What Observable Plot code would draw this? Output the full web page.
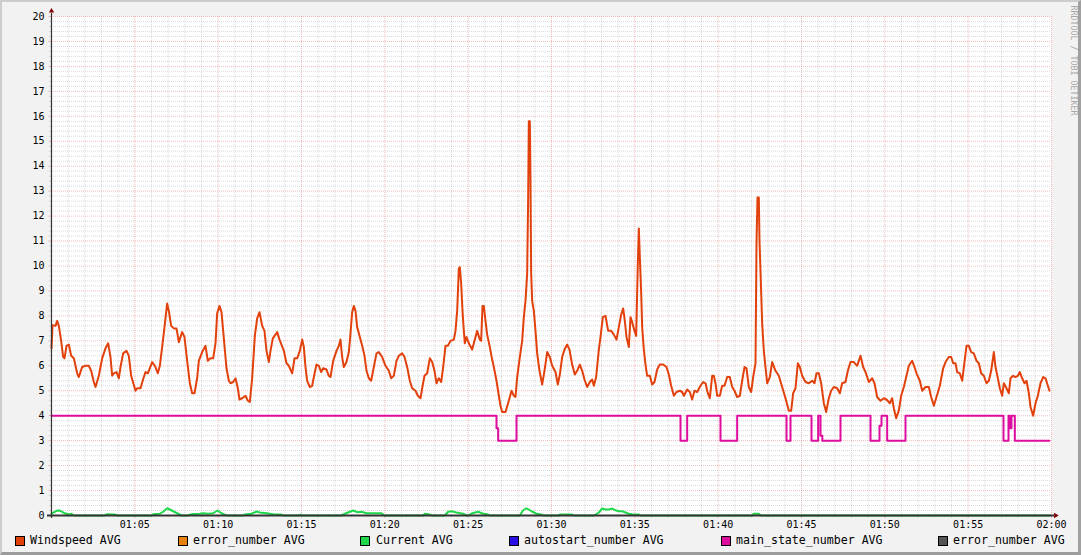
<!DOCTYPE html>
<html>
<head>
<meta charset="utf-8">
<script src="https://cdn.jsdelivr.net/npm/d3@7"></script>
<script src="https://cdn.jsdelivr.net/npm/@observablehq/plot@0.6"></script>
<style>
  html, body { margin: 0; padding: 0; background: #F2F2F2; }
  #wrap { position: relative; width: 1081px; height: 555px; background: #F2F2F2; overflow: hidden; font-family: "DejaVu Sans Mono", monospace; }
  #chart { position: absolute; left: 0; top: 0; }
  #frame { position: absolute; left: 0; top: 0; width: 1081px; height: 555px; box-sizing: border-box;
           border-top: 2px solid #CDCDCD; border-left: 2px solid #CDCDCD; border-right: 3px solid #A0A0A0; border-bottom: 3px solid #9C9C9C; pointer-events: none; }
  .lg-box { position: absolute; top: 536px; width: 10px; height: 10px; box-sizing: border-box; border: 1px solid #000; }
  .lg-txt { position: absolute; top: 535px; font-size: 11.6px; line-height: 11.6px; color: #000; white-space: pre; }
</style>
</head>
<body>
<div id="wrap">
  <div id="chart"></div>
  <div id="legend"></div>
  <div id="frame"></div>
</div>
<script>
// ---- time axis: minutes after 01:00 ----
const xTickMinutes = [5, 10, 15, 20, 25, 30, 35, 40, 45, 50, 55, 60];
const xTickLabels = ["01:05", "01:10", "01:15", "01:20", "01:25", "01:30", "01:35", "01:40", "01:45", "01:50", "01:55", "02:00"];
const yTicks = [0, 1, 2, 3, 4, 5, 6, 7, 8, 9, 10, 11, 12, 13, 14, 15, 16, 17, 18, 19, 20];

// ---- Windspeed AVG ----
const windT = [0.0,0.06,0.24,0.34,0.44,0.58,0.70,0.78,0.90,1.04,1.18,1.34,1.54,1.64,1.84,2.04,2.24,2.38,2.54,2.64,2.84,3.04,3.24,3.40,3.54,3.64,3.74,3.90,4.04,4.14,4.30,4.50,4.64,4.78,5.04,5.14,5.34,5.54,5.64,5.78,6.04,6.24,6.38,6.50,6.64,6.78,6.94,7.04,7.18,7.34,7.50,7.64,7.84,7.98,8.14,8.30,8.44,8.58,8.74,8.84,9.04,9.24,9.38,9.54,9.70,9.84,9.94,10.08,10.20,10.34,10.50,10.64,10.74,10.90,11.04,11.18,11.28,11.44,11.64,11.78,11.90,12.04,12.20,12.34,12.48,12.64,12.78,12.90,13.04,13.14,13.28,13.54,13.68,
13.94,14.10,14.24,14.44,14.58,14.74,14.90,15.04,15.14,15.24,15.34,15.50,15.64,15.74,15.90,16.04,16.18,16.30,16.50,16.64,16.74,16.90,17.10,17.24,17.34,17.44,17.54,17.70,17.84,17.94,18.04,18.14,18.24,18.34,18.50,18.64,18.78,18.90,19.04,19.18,19.34,19.50,19.64,19.84,20.04,20.24,20.38,20.54,20.70,20.84,21.04,21.18,21.34,21.50,21.64,21.84,21.98,22.14,22.24,22.38,22.54,22.70,22.84,22.98,23.10,23.24,23.38,
23.50,23.64,23.78,23.94,24.14,24.24,24.34,24.44,24.50,24.58,24.66,24.74,24.80,24.90,25.04,25.24,25.38,25.54,25.70,25.78,25.86,25.94,26.04,26.14,26.30,26.44,26.54,26.70,26.84,26.94,27.04,27.24,27.44,27.60,27.74,27.84,27.94,28.10,28.24,28.34,28.44,28.54,28.60,28.64,28.70,28.74,28.78,28.84,28.94,29.04,29.14,29.28,29.44,29.58,29.74,29.90,30.04,30.24,30.38,30.50,30.64,30.78,30.94,31.08,31.24,31.40,31.54,31.70,31.84,31.98,32.14,32.30,32.44,32.54,32.68,32.84,32.94,33.08,33.24,33.40,33.58,33.74,33.90,34.04,34.18,34.30,34.40,34.50,34.64,34.74,34.84,34.98,35.08,35.18,35.24,35.30,35.38,35.44,35.54,35.64,35.74,35.90,36.04,36.18,36.34,36.50,36.70,36.90,37.04,37.18,37.34,37.50,37.70,37.84,37.94,38.14,38.30,38.44,38.58,38.74,
38.94,39.10,39.24,39.38,39.50,39.64,39.74,39.84,39.94,40.10,40.24,40.38,40.54,40.70,40.84,40.98,41.14,41.30,41.44,41.58,41.70,41.84,41.98,42.10,42.24,42.30,42.36,42.44,42.48,42.54,42.64,42.74,42.84,42.94,43.10,43.24,43.44,43.64,43.84,44.04,44.24,44.38,44.50,44.64,44.78,44.90,45.04,45.24,45.44,45.64,45.78,45.90,46.04,46.18,46.34,46.48,46.64,46.78,46.94,47.14,47.30,47.44,47.64,47.78,47.94,48.14,48.34,48.54,48.70,48.84,49.04,49.24,49.38,49.54,49.74,49.94,50.10,50.30,50.44,50.54,50.68,50.84,50.98,51.14,51.30,51.44,51.64,51.78,51.90,52.10,52.24,52.44,52.64,52.78,52.94,53.10,53.30,53.50,53.64,53.84,53.98,54.10,54.24,54.34,54.50,54.64,54.78,54.90,55.04,55.18,55.34,55.50,55.64,55.78,55.94,56.10,56.24,56.38,56.54,56.64,56.78,56.90,57.04,57.14,57.30,57.44,57.54,57.70,57.84,57.98,58.10,58.24,58.38,58.50,58.64,58.74,58.90,59.04,59.18,59.34,59.50,59.64,59.78,59.88];
const windV = [6.7,7.63,7.6,7.8,7.6,7.0,6.35,6.3,6.8,6.85,6.4,6.3,5.7,5.55,5.95,6.0,6.0,5.8,5.35,5.15,5.6,6.3,6.7,6.9,6.35,5.6,5.7,5.75,5.5,5.95,6.5,6.6,6.4,5.6,5.0,5.1,5.1,5.55,5.75,5.7,6.15,5.95,5.7,6.0,6.75,7.55,8.5,8.2,7.6,7.5,7.5,6.95,7.35,7.15,6.2,5.3,4.9,4.9,5.5,6.2,6.55,6.8,6.2,6.3,6.3,6.9,8.1,8.4,8.15,7.1,5.9,5.4,5.3,5.35,5.5,5.1,4.65,4.7,4.8,4.6,4.55,5.5,7.2,7.9,8.15,7.6,7.4,6.6,6.15,6.6,7.1,7.35,7.05,
6.6,6.1,6.0,5.7,6.3,6.3,6.6,7.05,6.75,5.95,5.4,5.15,5.2,5.55,6.05,6.0,5.75,5.9,5.85,5.6,5.55,6.2,6.6,6.8,7.05,6.35,5.95,6.15,6.55,7.3,8.15,8.4,8.2,7.55,7.15,6.8,6.4,5.8,5.5,5.4,5.95,6.5,6.55,6.35,6.0,5.8,5.5,5.6,6.2,6.4,6.5,6.35,5.95,5.4,5.1,5.0,4.8,4.7,5.1,5.6,5.7,6.3,6.15,5.8,5.3,5.5,5.35,
5.95,6.8,6.8,7.0,7.05,7.4,8.2,9.9,9.95,9.3,8.2,7.4,6.9,7.15,6.9,6.65,7.0,7.4,7.05,7.0,8.4,8.4,7.8,7.25,6.75,6.25,5.95,5.4,4.8,4.4,4.15,4.15,4.6,5.0,4.8,4.75,5.55,6.35,7.0,7.95,8.6,9.7,12.75,15.8,15.8,13.4,9.7,8.6,8.2,7.4,6.5,5.8,5.25,5.8,6.55,6.35,6.0,5.75,5.25,5.65,6.35,6.65,6.85,6.65,6.05,5.65,5.8,6.05,5.8,5.45,5.15,5.35,5.45,5.2,5.55,6.65,7.15,7.95,8.0,7.4,7.4,7.25,7.05,7.55,8.05,8.3,7.8,7.15,6.75,7.95,7.75,7.4,7.2,10.1,11.5,10.35,8.95,7.55,6.65,6.05,5.6,5.6,5.25,5.35,5.85,6.05,6.05,5.95,5.65,5.2,4.8,4.95,5.0,4.95,4.8,5.05,4.95,4.65,5.0,4.95,
5.2,5.35,5.3,4.9,4.7,5.6,5.6,5.3,4.8,4.8,5.2,5.2,5.55,5.55,5.15,5.0,4.75,4.8,5.4,5.95,5.9,5.15,4.95,5.55,6.1,10.9,12.75,12.75,11.0,9.8,7.7,6.6,5.95,5.3,5.55,6.15,5.8,5.6,5.15,4.7,4.2,4.2,4.9,5.1,6.1,5.95,5.6,5.35,5.3,5.4,5.3,5.7,5.7,5.3,4.5,4.15,4.7,5.0,5.15,5.1,4.9,5.3,5.35,5.8,6.15,6.15,6.0,6.4,5.95,5.75,5.35,5.5,5.3,4.75,4.6,4.7,4.65,4.5,4.7,4.3,3.9,4.2,4.8,5.15,5.6,6.0,6.2,5.95,5.7,5.4,5.0,5.15,5.15,4.75,4.4,4.75,5.2,5.9,6.15,6.35,6.35,6.1,6.1,5.75,5.7,5.4,6.15,6.8,6.8,6.55,6.5,6.2,6.1,5.7,5.6,5.3,5.4,5.8,6.55,5.95,5.5,5.1,4.8,5.3,5.1,4.9,5.5,5.6,5.55,5.6,5.75,5.5,5.3,5.4,4.9,4.35,4.0,4.5,4.8,5.3,5.55,5.5,5.2,5.0];

// ---- Current AVG ----
const curT = [0,0.3,0.5,0.8,1.04,1.2,1.36,3.2,3.3,3.8,3.96,6.0,6.1,6.5,6.7,6.94,7.1,7.36,7.6,7.8,8.16,8.4,8.9,9.1,9.4,9.7,9.96,10.2,10.4,10.56,11.5,11.6,12.0,12.3,12.5,12.9,13.3,13.8,13.9,14.9,14.96,15.04,17.4,17.6,17.9,18.1,18.36,18.6,18.9,19.8,19.96,22.3,22.4,22.7,22.8,23.6,23.8,24.0,24.3,24.7,24.9,25.0,25.2,25.6,25.9,26.2,26.3,28.1,28.3,28.5,28.8,29.1,29.4,29.5,30.44,30.5,31.24,31.34,32.54,32.64,32.84,33.04,33.24,33.44,33.64,33.84,34.04,34.24,34.44,34.64,34.84,35.24,35.34,42.04,42.14,42.44,42.58,59.88];
const curV = [0.08,0.19,0.2,0.09,0.04,0.07,0,0,0.05,0.04,0,0,0.05,0.07,0.15,0.29,0.24,0.15,0.07,0,0,0.05,0.07,0.09,0.07,0.09,0.2,0.09,0.03,0,0,0.04,0.07,0.16,0.12,0.09,0.05,0.04,0,0,0.04,0,0,0.07,0.15,0.2,0.13,0.15,0.09,0.09,0,0,0.07,0.04,0,0,0.15,0.17,0.12,0.07,0,0,0.08,0.15,0.07,0.04,0,0,0.21,0.29,0.17,0.07,0.04,0,0,0.04,0.04,0,0,0.04,0.12,0.28,0.24,0.24,0.28,0.21,0.17,0.17,0.12,0.07,0.05,0.04,0,0,0.07,0.07,0,0];

// ---- main_state_number AVG (step series) ----
const stateT = [0,26.6,26.7,26.8,27.9,37.74,38.14,40.14,41.14,44.1,44.34,45.6,46.0,46.14,46.25,47.34,49.14,49.68,49.8,50.14,51.24,57.12,57.42,57.5,57.6,57.8,59.88];
const stateV = [4,4,3.5,3,4,3,4,3,4,3,4,3,4,3.2,3,4,3,3.6,4,3,4,3,4,3.5,4,3,3];

// ---- legend ----
const legendNames = ["Windspeed AVG", "error_number AVG", "Current AVG", "autostart_number AVG", "main_state_number AVG", "error_number AVG"];
const legendColors = ["#E2410C", "#E8820E", "#1FD84A", "#2A0EE6", "#DF0CA0", "#555555"];
const watermark = "RRDTOOL / TOBI OETIKER";

const windData = windT.map((t, i) => ({t, v: windV[i]}));
const curData = curT.map((t, i) => ({t, v: curV[i]}));
const stateData = stateT.map((t, i) => ({t, v: stateV[i]}));

const GRID = "rgba(140,140,140,0.32)";
const MGRID = "rgba(220,80,80,0.38)";
const AXIS = "#333333";
const ARROW = "#800000";

const minorX = d3.range(1, 60).filter(m => m % 5 !== 0);
const majorX = d3.range(0, 61, 5);
const minorY = d3.range(1, 100).map(k => k / 5).filter(v => Math.abs(v - Math.round(v)) > 1e-6);
const tickLabel = new Map(xTickMinutes.map((m, i) => [m, xTickLabels[i]]));

const chart = Plot.plot({
  width: 1081,
  height: 530,
  marginLeft: 51,
  marginRight: 30,
  marginTop: 16,
  marginBottom: 15,
  x: {domain: [0, 60], label: null},
  y: {domain: [0, 20], label: null},
  style: {background: "transparent", fontFamily: "DejaVu Sans Mono", fontSize: "10px", color: "#000", overflow: "visible"},
  marks: [
    Plot.frame({fill: "#FFFFFF", stroke: null}),
    Plot.ruleX(minorX, {stroke: GRID, strokeDasharray: "1,1"}),
    Plot.ruleY(minorY, {stroke: GRID, strokeDasharray: "1,1"}),
    Plot.ruleX(majorX, {stroke: MGRID, strokeDasharray: "1,1"}),
    Plot.ruleY(yTicks, {stroke: MGRID, strokeDasharray: "1,1"}),
    // axis tick marks
    Plot.ruleX(minorX, {y1: 0, y2: -0.09, stroke: GRID}),
    Plot.ruleX(majorX, {y1: 0, y2: -0.12, stroke: MGRID}),
    Plot.ruleY(minorY, {x1: -0.12, x2: 0, stroke: GRID}),
    Plot.ruleY(yTicks, {x1: -0.15, x2: 0, stroke: MGRID}),
    // data
    Plot.line(curData, {x: "t", y: "v", stroke: legendColors[2], strokeWidth: 2}),
    Plot.line(stateData, {x: "t", y: "v", stroke: legendColors[4], strokeWidth: 2, curve: "step-after"}),
    Plot.line(windData, {x: "t", y: "v", stroke: legendColors[0], strokeWidth: 2}),
    // axes
    Plot.ruleY([0], {x1: -0.24, x2: 60.2, stroke: AXIS, strokeWidth: 2}),
    Plot.ruleX([0], {y1: -0.12, y2: 20.12, stroke: AXIS, strokeWidth: 1.2}),
    Plot.dot([{t: 0, v: 20.22}], {x: "t", y: "v", symbol: "triangle", r: 2, fill: ARROW, stroke: null}),
    Plot.dot([{t: 60.25, v: 0}], {x: "t", y: "v", symbol: "triangle", r: 2, fill: ARROW, stroke: null, rotate: 90}),
    Plot.axisX({ticks: xTickMinutes, tickFormat: d => tickLabel.get(d), tickSize: 0, tickPadding: 5, fontSize: 10, label: null}),
    Plot.axisY({ticks: yTicks, tickSize: 0, tickPadding: 7, fontSize: 10, label: null}),
    Plot.text([watermark], {frameAnchor: "top-right", text: d => d, rotate: 90, textAnchor: "start", lineAnchor: "middle", dx: 22, dy: -11, fontSize: 8.3, fill: "#A8A8A8"})
  ]
});
document.getElementById("chart").appendChild(chart);

// legend
const boxLeft = [15, 178, 360, 509, 721, 938];
const textLeft = [30, 193, 376, 524, 736, 953];
const lg = document.getElementById("legend");
legendNames.forEach((name, i) => {
  const b = document.createElement("div");
  b.className = "lg-box";
  b.style.left = boxLeft[i] + "px";
  b.style.background = legendColors[i];
  lg.appendChild(b);
  const s = document.createElement("div");
  s.className = "lg-txt";
  s.style.left = textLeft[i] + "px";
  s.textContent = name;
  lg.appendChild(s);
});
</script>
</body>
</html>
